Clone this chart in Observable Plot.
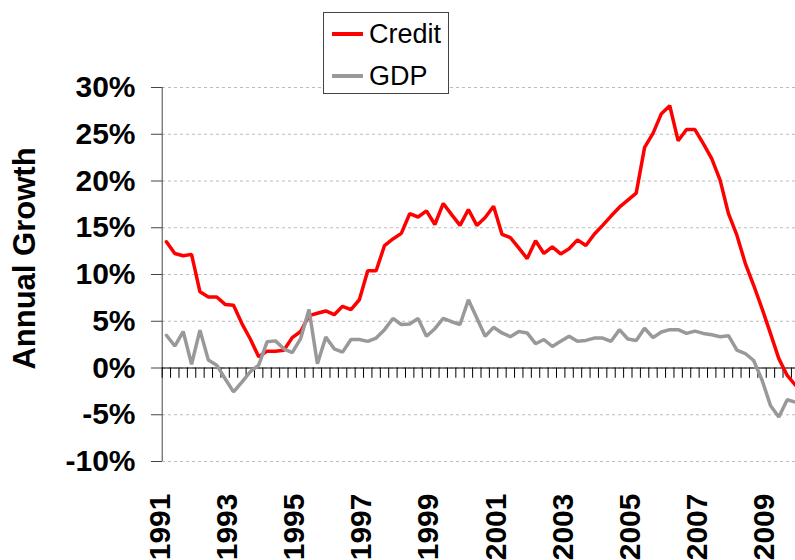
<!DOCTYPE html>
<html>
<head>
<meta charset="utf-8">
<script src="https://cdn.jsdelivr.net/npm/d3@7"></script>
<script src="https://cdn.jsdelivr.net/npm/@observablehq/plot@0.6"></script>
<style>
  html, body { margin: 0; padding: 0; background: #fff; overflow: hidden; }
  #wrap { position: relative; width: 795px; height: 560px; font-family: "Liberation Sans", Arial, sans-serif; }
  #legend { position: absolute; left: 323px; top: 12px; width: 124px; height: 80px; border: 1px solid #444; background: #fff; }
  .item { position: absolute; left: 0; height: 30px; display: flex; align-items: center; }
  .sw { display: inline-block; width: 31px; height: 4px; margin-left: 8px; margin-right: 6px; }
  .lab { font-size: 27px; color: #000; line-height: 30px; }
</style>
</head>
<body>
<div id="wrap">
  <div id="chart"></div>
  <div id="legend">
    <div class="item" style="top:6px"><span class="sw" style="background:#ff0000"></span><span class="lab">Credit</span></div>
    <div class="item" style="top:48px"><span class="sw" style="background:#999999"></span><span class="lab">GDP</span></div>
  </div>
</div>
<script>
// Quarterly categories 1991 Q1 .. 2009 Q4
const years = d3.range(1991, 2010);
const quarters = years.flatMap(y => [1, 2, 3, 4].map(q => `${y} Q${q}`));
const yearLabels = ["1991", "1993", "1995", "1997", "1999", "2001", "2003", "2005", "2007", "2009"];
const yTicks = [-10, -5, 0, 5, 10, 15, 20, 25, 30];

// Annual growth, percent
const credit = [
  13.5, 12.25, 12.0, 12.15, 8.15, 7.6, 7.6, 6.8, 6.7, 4.75, 3.1, 1.2,
  1.8, 1.8, 1.9, 3.25, 3.9, 5.6, 5.85, 6.1, 5.7, 6.6, 6.25, 7.3,
  10.4, 10.4, 13.1, 13.8, 14.4, 16.5, 16.15, 16.8, 15.35, 17.6, 16.4, 15.25,
  16.95, 15.25, 16.1, 17.3, 14.3, 13.95, 12.85, 11.7, 13.6, 12.25, 12.95, 12.2,
  12.75, 13.7, 13.1, 14.3, 15.25, 16.25, 17.2, 17.95, 18.7, 23.6, 25.1, 27.2,
  28.05, 24.3, 25.5, 25.5, 24.0, 22.4, 20.1, 16.5, 14.2, 11.2, 8.85, 6.35,
  3.7, 1.0, -0.8, -1.85
];
const gdp = [
  3.5, 2.35, 3.9, 0.4, 4.05, 0.85, 0.3, -1.15, -2.55, -1.5, -0.4, 0.3,
  2.8, 2.9, 2.05, 1.65, 3.15, 6.25, 0.45, 3.3, 2.05, 1.7, 3.05, 3.05,
  2.85, 3.2, 4.1, 5.3, 4.65, 4.7, 5.3, 3.4, 4.2, 5.3, 4.95, 4.65,
  7.3, 5.35, 3.4, 4.35, 3.75, 3.35, 3.9, 3.75, 2.6, 3.05, 2.3, 2.85,
  3.4, 2.85, 2.95, 3.2, 3.2, 2.85, 4.1, 3.1, 2.95, 4.25, 3.25, 3.85,
  4.1, 4.1, 3.7, 3.95, 3.7, 3.55, 3.35, 3.45, 1.9, 1.55, 0.8, -1.3,
  -4.0, -5.25, -3.4, -3.65
];

// category centre = index + 0.5 on a linear quarter axis
const rows = quarters.map((q, i) => ({q, pos: i + 0.5, credit: credit[i], gdp: gdp[i]}));
const boundaries = d3.range(quarters.length + 1);
const labelPos = yearLabels.map(y => quarters.indexOf(`${y} Q1`) + 0.5);

const chart = Plot.plot({
  width: 795,
  height: 560,
  marginTop: 87,
  marginBottom: 99,
  marginLeft: 162,
  marginRight: 0,
  style: {fontFamily: "'Liberation Sans', Arial, sans-serif", color: "#000", background: "#fff"},
  x: {type: "linear", domain: [0, quarters.length], range: [161.7, 799.3]},
  y: {domain: [-10, 30]},
  marks: [
    Plot.gridY(yTicks, {stroke: "#bbbbbb", strokeOpacity: 1, strokeDasharray: "3,3"}),
    Plot.axisY(yTicks, {
      tickFormat: d => d + "%", tickSize: 11, tickPadding: 16,
      fontSize: 30, fontWeight: "bold", stroke: "#444", label: null
    }),
    Plot.ruleX([0], {stroke: "#444"}),
    Plot.ruleX(boundaries, {x: d => d, y1: 0, y2: -1.1, stroke: "#000"}),
    Plot.ruleY([0], {stroke: "#000"}),
    Plot.axisX(labelPos, {
      tickFormat: d => quarters[Math.floor(d)].slice(0, 4),
      tickSize: 0, tickPadding: 32, tickRotate: -90,
      fontSize: 30, fontWeight: "bold", dx: -6, label: null
    }),
    Plot.line(rows, {x: "pos", y: "credit", stroke: "#ff0000", strokeWidth: 3.5, strokeLinejoin: "miter"}),
    Plot.line(rows, {x: "pos", y: "gdp", stroke: "#999999", strokeWidth: 3.5, strokeLinejoin: "miter"}),
    Plot.text(["Annual Growth"], {
      frameAnchor: "left", textAnchor: "middle", rotate: -90, dx: -137, dy: -16,
      fontSize: 31, fontWeight: "bold", fill: "#000"
    })
  ]
});
document.getElementById("chart").appendChild(chart);
</script>
</body>
</html>
